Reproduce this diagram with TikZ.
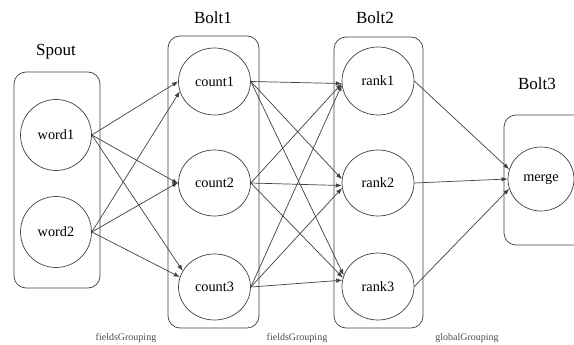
\documentclass[tikz,border=0pt]{standalone}
\usepackage{fontspec}
\setmainfont{Liberation Serif}
\usetikzlibrary{arrows.meta,shapes.geometric}

\tikzset{
  group/.style={draw=black!75, line width=0.7pt, rounded corners=12pt, inner sep=0pt},
  task/.style={draw=black!75, line width=0.7pt, ellipse, inner sep=0pt,
    minimum width=72pt, minimum height=68pt, font=\fontsize{14.3}{16}\selectfont},
  title/.style={font=\fontsize{17}{20}\selectfont, inner sep=0pt},
  grouping/.style={font=\fontsize{10}{12}\selectfont, text=black!70, inner sep=0pt},
  flow/.style={draw=black!75, line width=0.7pt, -{Latex[length=6pt,width=4.5pt]}},
}

\begin{document}
\begin{tikzpicture}[x=1pt,y=-1pt]
  \useasboundingbox (0,0) rectangle (574,345);
  \clip (0,0) rectangle (574,345);

  % component boxes
  \node[group, minimum width=86pt, minimum height=216pt] (spout) at (57,180) {};
  \node[group, minimum width=91pt, minimum height=292pt] (bolt1) at (213.5,182) {};
  \node[group, minimum width=89pt, minimum height=291pt] (bolt2) at (378.5,182.5) {};
  \node[group, minimum width=86pt, minimum height=130pt] (bolt3) at (547,180) {};

  % component titles
  \node[title] (tspout) at (56,52) {Spout};
  \node[title] (tbolt1) at (213,18) {Bolt1};
  \node[title] (tbolt2) at (375,18) {Bolt2};
  \node[title] (tbolt3) at (537,84) {Bolt3};

  % tasks
  \node[task, minimum width=71pt, minimum height=71pt] (word1) at (56,135) {word1};
  \node[task, minimum width=71pt, minimum height=71pt] (word2) at (56,232) {word2};

  \node[task, minimum height=67pt] (count1) at (214.5,81.5) {count1};
  \node[task, minimum height=66pt] (count2) at (214.5,183) {count2};
  \node[task, minimum height=66pt] (count3) at (214.5,287) {count3};

  \node[task] (rank1) at (378,81) {rank1};
  \node[task, minimum height=66pt] (rank2) at (378,183) {rank2};
  \node[task, minimum height=67pt] (rank3) at (378,286.5) {rank3};

  \node[task, minimum width=66pt, minimum height=64pt] (merge) at (541,179) {merge};

  % Spout -> Bolt1 (fieldsGrouping)
  \draw[flow] (word1.east) -- (count1.180);
  \draw[flow] (word2.east) -- (count1.196);
  \draw[flow] (word1.east) -- (count2.181);
  \draw[flow] (word2.east) -- (count2.179);
  \draw[flow] (word1.east) -- (count3.153);
  \draw[flow] (word2.east) -- (count3.164);

  % Bolt1 -> Bolt2 (fieldsGrouping)
  \draw[flow] (count1.east) -- (rank1.184);
  \draw[flow] (count2.east) -- (rank1.184);
  \draw[flow] (count3.east) -- (rank1.186);
  \draw[flow] (count1.east) -- (rank2.174);
  \draw[flow] (count2.east) -- (rank2.184);
  \draw[flow] (count3.east) -- (rank2.188);
  \draw[flow] (count1.east) -- (rank3.162);
  \draw[flow] (count2.east) -- (rank3.166);
  \draw[flow] (count3.east) -- (rank3.170);

  % Bolt2 -> Bolt3 (globalGrouping)
  \draw[flow] (rank1.east) -- (merge.163);
  \draw[flow] (rank2.east) -- (merge.180);
  \draw[flow] (rank3.east) -- (merge.197);

  % grouping labels
  \node[grouping] (g1) at (126,338) {fieldsGrouping};
  \node[grouping] (g2) at (297,338) {fieldsGrouping};
  \node[grouping] (g3) at (467,338) {globalGrouping};
\end{tikzpicture}
\end{document}
